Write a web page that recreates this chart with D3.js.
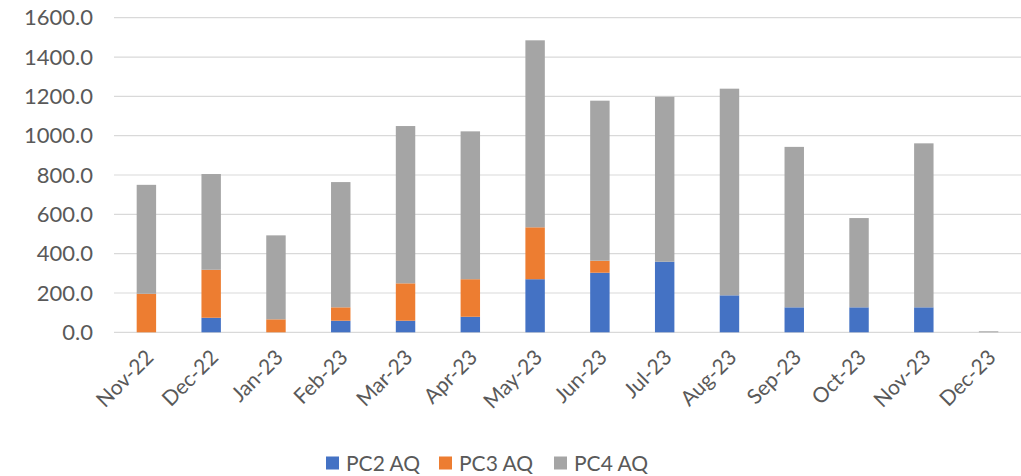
<!DOCTYPE html>
<html><head><meta charset="utf-8">
<script src="https://cdn.jsdelivr.net/npm/d3@7"></script>
<style>body{margin:0;background:#fff}svg{display:block}text{font-family:Lato,"Open Sans",sans-serif;fill:#595959}</style>
</head><body><svg id="c" width="1021" height="476"></svg>
<script>
const categories = ["Nov-22","Dec-22","Jan-23","Feb-23","Mar-23","Apr-23","May-23","Jun-23","Jul-23","Aug-23","Sep-23","Oct-23","Nov-23","Dec-23"];
const pc2 = [0, 74, 0, 59, 59, 79, 270, 303, 359, 188, 127, 127, 127, 0];
const pc3 = [196, 244, 66, 68, 190, 191, 264, 61, 0, 0, 0, 0, 0, 0];
const pc4 = [554, 487, 427, 637, 800, 752, 951, 814, 839, 1051, 816, 454, 834, 5];
const seriesNames = ["PC2 AQ","PC3 AQ","PC4 AQ"];
const colors = ["#4472C4","#ED7D31","#A5A5A5"];
const yTicks = [0,200,400,600,800,1000,1200,1400,1600];

const svg = d3.select("#c");
const L = 114, R = 1021, T = 17.7, B = 332.3;
const x = d3.scaleBand().domain(categories).range([L, R]).paddingInner(0.7).paddingOuter(0.35);
const y = d3.scaleLinear().domain([0,1600]).range([B, T]);

// gridlines
svg.append("g").selectAll("line").data(yTicks).join("line")
  .attr("x1", L).attr("x2", R).attr("y1", d=>y(d)).attr("y2", d=>y(d))
  .attr("stroke", "#d9d9d9").attr("stroke-width", 1.2);

// y axis labels
const yAxis = d3.axisLeft(y).tickValues(yTicks).tickFormat(d3.format(".1f")).tickSize(0).tickPadding(0);
const gy = svg.append("g").attr("transform", `translate(${93},0)`).call(yAxis);
gy.select(".domain").remove();
gy.selectAll("text").attr("font-size", 22).attr("fill", "#595959").style("font-family", "Lato");

// stacked bars
const rows = categories.map((c,i)=>({cat:c, "PC2 AQ":pc2[i], "PC3 AQ":pc3[i], "PC4 AQ":pc4[i]}));
const stack = d3.stack().keys(seriesNames)(rows);
svg.append("g").selectAll("g").data(stack).join("g")
  .attr("fill", (d,i)=>colors[i])
  .selectAll("rect").data(d=>d).join("rect")
  .attr("x", d=>x(d.data.cat)).attr("width", x.bandwidth())
  .attr("y", d=>y(d[1])).attr("height", d=>Math.max(0, y(d[0])-y(d[1])));

// x labels
const gx = svg.append("g").attr("transform", `translate(0,${B})`)
  .call(d3.axisBottom(x).tickSize(0).tickPadding(0));
gx.select(".domain").remove();
gx.selectAll("text").attr("font-size", 21).attr("fill", "#595959").style("font-family", "Lato")
  .attr("text-anchor", "end")
  .attr("transform", "translate(-2,16) rotate(-45)")
  .attr("dy", "0.7em").attr("y", 0).attr("x", 0);

// legend
const lx = [326, 439, 554];
const lg = svg.append("g");
seriesNames.forEach((s,i)=>{
  lg.append("rect").attr("x", lx[i]).attr("y", 456.5).attr("width", 13).attr("height", 13).attr("fill", colors[i]);
  lg.append("text").attr("x", lx[i]+20).attr("y", 470.5).attr("font-size", 21).text(s);
});
</script></body></html>
